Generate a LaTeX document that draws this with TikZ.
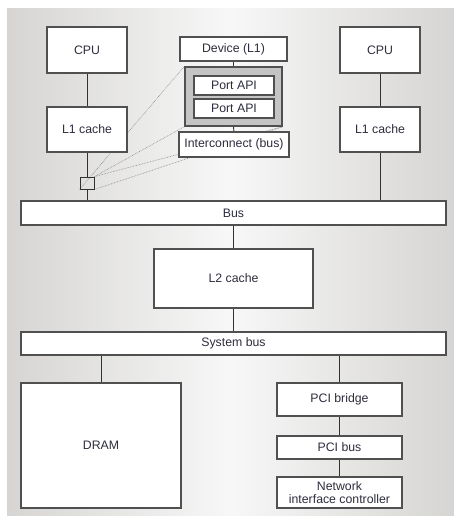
\documentclass[tikz,border=0pt]{standalone}
\usepackage{fontspec}
\setmainfont{Liberation Sans}
\pgfdeclarelayer{bg}
\pgfdeclarelayer{lines}
\pgfsetlayers{bg,lines,main}
\definecolor{txt}{RGB}{45,45,62}
\definecolor{edge}{RGB}{80,80,80}
\definecolor{conn}{RGB}{50,50,50}
\definecolor{panelgray}{RGB}{214,213,211}
\definecolor{framefill}{RGB}{196,196,196}
\begin{document}
\begin{tikzpicture}[x=1pt,y=-1pt,
  box/.style={draw=edge, fill=white, line width=1.2pt, inner sep=0pt, outer sep=0pt,
    text=txt, font=\fontsize{12.3}{12.5}\selectfont, align=center},
  conline/.style={draw=conn, line width=0.9pt},
  zoomline/.style={draw=black!45, line width=0.6pt, dash pattern=on 0.7pt off 0.9pt}]
\useasboundingbox (0,0) rectangle (454,516);
\begin{pgfonlayer}{bg}
  \shade[left color=panelgray, right color=panelgray, middle color=white!97!black] (7,9) rectangle (454,516);
\end{pgfonlayer}

% top-left column
\node[box, minimum width=80pt, minimum height=46pt] (cpu1) at (87,50) {CPU};
\node[box, minimum width=80pt, minimum height=45pt] (l1a) at (87,129.5) {L1 cache};
\node[draw=conn, line width=0.9pt, minimum width=14pt, minimum height=12pt, inner sep=0pt] (sq) at (87,183) {};

% top-right column
\node[box, minimum width=80pt, minimum height=46pt] (cpu2) at (380,50) {CPU};
\node[box, minimum width=80pt, minimum height=45pt] (l1b) at (380,129.5) {L1 cache};

% magnified device
\node[box, minimum width=107pt, minimum height=24pt] (dev) at (233.5,49) {Device (L1)};
\node[draw=edge, fill=framefill, line width=1.4pt, minimum width=97pt, minimum height=59pt, inner sep=0pt] (frame) at (233.5,96.5) {};
\node[box, minimum width=80pt, minimum height=19pt] (port1) at (234,85.5) {Port API};
\node[box, minimum width=80pt, minimum height=19pt] (port2) at (234,108.5) {Port API};
\node[box, minimum width=110pt, minimum height=25pt] (ic) at (234,144.5) {Interconnect (bus)};

% buses and lower part
\node[box, minimum width=425pt, minimum height=24pt] (bus) at (233.5,213) {Bus};
\node[box, minimum width=159pt, minimum height=59pt] (l2) at (233.5,278.5) {L2 cache};
\node[box, minimum width=425pt, minimum height=23pt] (sys) at (233.5,343.5) {System bus};
\node[box, minimum width=160pt, minimum height=125pt] (dram) at (101,445.5) {DRAM};
\node[box, minimum width=125pt, minimum height=33pt] (pcib) at (339.5,399.5) {PCI bridge};
\node[box, minimum width=125pt, minimum height=23pt] (pcibus) at (339.5,447.5) {PCI bus};
\node[box, minimum width=125pt, minimum height=31pt] (nic) at (339.5,492.5) {Network\\interface controller};

\begin{pgfonlayer}{lines}
  % connectors
  \draw[conline] (cpu1.south) -- (l1a.north);
  \draw[conline] (l1a.south) -- (sq.north);
  \draw[conline] (sq.south) -- (sq.south |- bus.north);
  \draw[conline] (cpu2.south) -- (l1b.north);
  \draw[conline] (l1b.south) -- (l1b.south |- bus.north);
  \draw[conline] (dev.south) -- (frame.north);
  \draw[conline] (frame.south) -- (ic.north);
  \draw[conline] ([xshift=-16pt]port1.south) -- ([xshift=-16pt]port2.north);
  \draw[conline] (port1.south) -- (port2.north);
  \draw[conline] ([xshift=15pt]port1.south) -- ([xshift=15pt]port2.north);
  \draw[conline] (bus.south) -- (l2.north);
  \draw[conline] (l2.south) -- (sys.north);
  \draw[conline] (dram.north |- sys.south) -- (dram.north);
  \draw[conline] (pcib.north |- sys.south) -- (pcib.north);
  \draw[conline] (pcib.south) -- (pcibus.north);
  \draw[conline] (pcibus.south) -- (nic.north);
  % magnification lines
  \draw[zoomline] (sq.south west) -- (frame.north west);
  \draw[zoomline] (sq.north east) -- (frame.south west);
  \draw[zoomline] (sq.north east) -- (frame.south east);
  \draw[zoomline] (sq.south east) -- (frame.south east);
\end{pgfonlayer}
\end{tikzpicture}
\end{document}
